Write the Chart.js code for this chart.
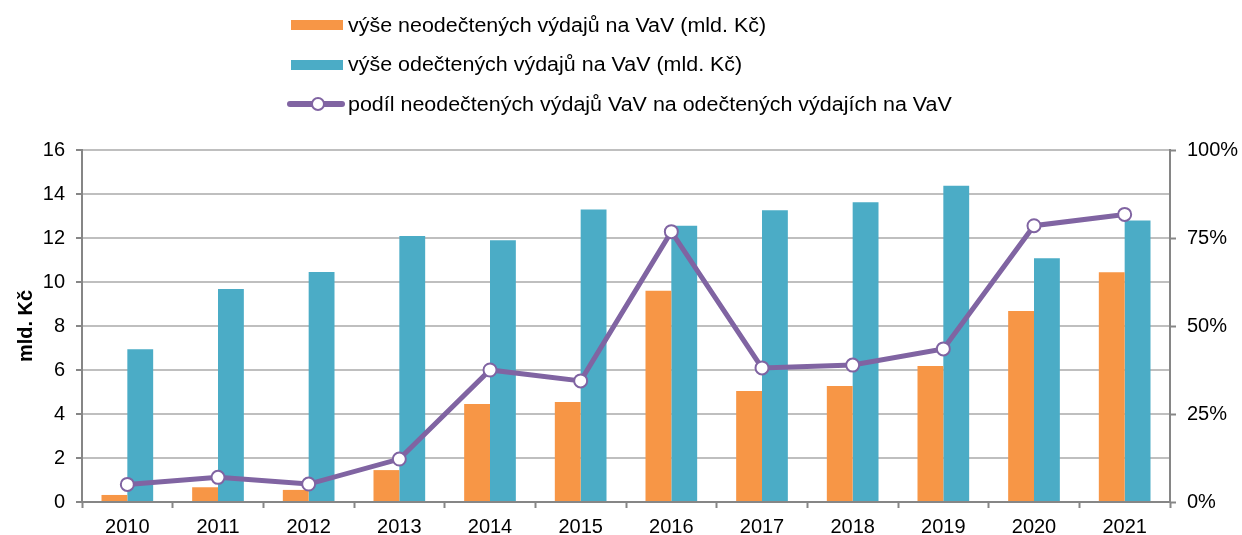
<!DOCTYPE html>
<html>
<head>
<meta charset="utf-8">
<script src="https://cdn.jsdelivr.net/npm/chart.js@4.4.1/dist/chart.umd.min.js"></script>
<style>
  html, body { margin: 0; padding: 0; background: #fff; }
  #wrap { position: relative; width: 1242px; height: 535px; }
  #c { position: absolute; left: 0; top: 0; }
  .leg { position: absolute; left: 287px; height: 20px; display: flex; align-items: center;
         font-family: "Liberation Sans", Arial, sans-serif; font-size: 19.5px; color: #000; white-space: nowrap; }
  .leg span { display: inline-block; transform: scaleX(1.1); transform-origin: left center; }
  .sw { width: 52px; height: 10px; margin-left: 4px; margin-right: 5px; }
  .ln { position: relative; width: 58px; height: 20px; margin-right: 3px; }
  .ln .bar { position: absolute; left: 0; right: 0; top: 7px; height: 6px; background: #8064a2; border-radius: 3px; }
  .ln .dot { position: absolute; left: 24px; top: 3px; width: 10px; height: 10px; border: 2.5px solid #8064a2; background: #fff; border-radius: 50%; }
</style>
</head>
<body>
<div id="wrap">
  <canvas id="c" width="1242" height="535"></canvas>
  <div id="legend"></div>
</div>
<script>
const categories = ['2010','2011','2012','2013','2014','2015','2016','2017','2018','2019','2020','2021'];
const neodectene = [0.32, 0.67, 0.55, 1.45, 4.45, 4.55, 9.6, 5.05, 5.27, 6.18, 8.68, 10.44];
const odectene = [6.94, 9.68, 10.45, 12.09, 11.9, 13.3, 12.56, 13.26, 13.62, 14.38, 11.08, 12.79];
const podil = [5.0, 7.0, 5.1, 12.2, 37.5, 34.4, 76.8, 38.1, 38.9, 43.5, 78.5, 81.7];
const labelNeod = 'výše neodečtených výdajů na VaV (mld. Kč)';
const labelOd = 'výše odečtených výdajů na VaV (mld. Kč)';
const labelPodil = 'podíl neodečtených výdajů VaV na odečtených výdajích na VaV';
const yTitle = 'mld. Kč';

const FONT = '"Liberation Sans", Arial, sans-serif';
const ORANGE = '#f79646', BLUE = '#4bacc6', PURPLE = '#8064a2';
const AXIS = '#868686', GRID = '#bfbfbf';

// HTML legend
const legend = document.getElementById('legend');
const items = [
  {type:'box', color: ORANGE, text: labelNeod, top: 15},
  {type:'box', color: BLUE, text: labelOd, top: 54.5},
  {type:'line', color: PURPLE, text: labelPodil, top: 94}
];
items.forEach(it => {
  const row = document.createElement('div');
  row.className = 'leg';
  row.style.top = it.top + 'px';
  if (it.type === 'box') {
    const s = document.createElement('div'); s.className = 'sw'; s.style.background = it.color; row.appendChild(s);
  } else {
    const l = document.createElement('div'); l.className = 'ln';
    l.innerHTML = '<div class="bar"></div><div class="dot"></div>'; row.appendChild(l);
  }
  const t = document.createElement('span'); t.textContent = it.text; row.appendChild(t);
  legend.appendChild(row);
});

Chart.defaults.font.family = FONT;
Chart.defaults.color = '#000';

new Chart(document.getElementById('c'), {
  data: {
    labels: categories,
    datasets: [
      { type: 'line', label: labelPodil, data: podil, yAxisID: 'y1', order: 0,
        borderColor: PURPLE, borderWidth: 5, pointRadius: 6.5, pointBorderWidth: 2,
        pointBackgroundColor: '#fff', pointBorderColor: PURPLE, tension: 0 },
      { type: 'bar', label: labelNeod, data: neodectene, yAxisID: 'y', order: 1,
        backgroundColor: ORANGE, categoryPercentage: 0.57, barPercentage: 1.0 },
      { type: 'bar', label: labelOd, data: odectene, yAxisID: 'y', order: 2,
        backgroundColor: BLUE, categoryPercentage: 0.57, barPercentage: 1.0 }
    ]
  },
  options: {
    responsive: false,
    animation: false,
    layout: { padding: { top: 150, left: 0, right: 0, bottom: 0 } },
    plugins: { legend: { display: false }, tooltip: { enabled: false } },
    scales: {
      x: {
        offset: true,
        grid: { offset: true, drawOnChartArea: false, drawTicks: true, tickLength: 6, tickColor: AXIS, tickWidth: 2 },
        border: { color: AXIS, width: 2 },
        ticks: { font: { size: 20 }, padding: 7, maxRotation: 0 },
        afterFit: s => { s.height = 33; }
      },
      y: {
        position: 'left', min: 0, max: 16,
        ticks: { stepSize: 2, font: { size: 20 }, padding: 11 },
        grid: { color: GRID, lineWidth: 2, tickLength: 6, tickColor: AXIS, tickWidth: 2 },
        border: { color: AXIS, width: 2 },
        title: { display: true, text: yTitle, font: { size: 20, weight: 'bold' }, padding: { top: 14, bottom: 0 } },
        afterFit: s => { s.width = 82; }
      },
      y1: {
        position: 'right', min: 0, max: 100,
        ticks: { stepSize: 25, font: { size: 20 }, padding: 11, callback: v => v + '%' },
        grid: { drawOnChartArea: false, tickLength: 6, tickColor: AXIS, tickWidth: 2 },
        border: { color: AXIS, width: 2 },
        afterFit: s => { s.width = 72; }
      }
    }
  }
});
</script>
</body>
</html>
